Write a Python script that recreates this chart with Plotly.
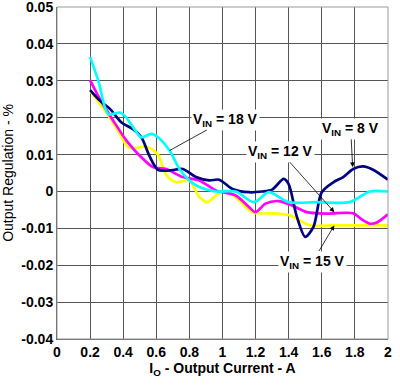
import plotly.graph_objects as go

# Data
x_8v = [0.2, 0.26, 0.32, 0.39, 0.46, 0.51, 0.56, 0.61, 0.68, 0.76, 0.84, 0.92, 0.98, 1.06, 1.16, 1.24, 1.30, 1.37, 1.40, 1.45, 1.50, 1.55, 1.60, 1.67, 1.73, 1.79, 1.85, 1.91, 2.0]
y_8v = [0.0275, 0.0246, 0.0224, 0.0187, 0.0169, 0.0147, 0.0095, 0.0059, 0.0057, 0.0061, 0.0039, 0.003, 0.0032, 0.0007, -0.0002, 0.0, 0.0005, 0.0034, 0.002, -0.0069, -0.0123, -0.0096, -0.0002, 0.0025, 0.0039, 0.0061, 0.0068, 0.0059, 0.0032]

x_12v = [0.2, 0.26, 0.34, 0.42, 0.50, 0.58, 0.66, 0.76, 0.86, 0.96, 1.08, 1.16, 1.20, 1.26, 1.34, 1.42, 1.51, 1.63, 1.79, 1.84, 1.89, 1.93, 2.0]
y_12v = [0.0302, 0.025, 0.0192, 0.0138, 0.0097, 0.0066, 0.0061, 0.0039, 0.003, 0.0003, -0.0011, -0.0042, -0.0056, -0.0033, -0.0026, -0.0038, -0.0056, -0.006, -0.0059, -0.0075, -0.0087, -0.0085, -0.0062]

x_15v = [0.2, 0.26, 0.32, 0.38, 0.43, 0.48, 0.54, 0.61, 0.66, 0.72, 0.80, 0.86, 0.91, 0.96, 1.02, 1.10, 1.18, 1.33, 1.41, 1.53, 1.67, 2.0]
y_15v = [0.0273, 0.0237, 0.020, 0.0156, 0.012, 0.0118, 0.0122, 0.0100, 0.0045, 0.0025, 0.003, -0.0015, -0.0029, -0.0011, 0.0003, -0.0024, -0.0056, -0.006, -0.0065, -0.0092, -0.0092, -0.0092]

x_18v = [0.2, 0.25, 0.31, 0.38, 0.41, 0.46, 0.51, 0.57, 0.61, 0.68, 0.74, 0.80, 0.86, 0.96, 1.08, 1.19, 1.28, 1.40, 1.57, 1.77, 1.89, 2.0]
y_18v = [0.0365, 0.030, 0.021, 0.0214, 0.0205, 0.0174, 0.0147, 0.0156, 0.0147, 0.0111, 0.0061, 0.003, 0.0012, 0.0, 0.0, -0.0029, -0.0002, -0.0029, -0.0029, -0.0029, 0.0, 0.0]

x_ticks = [0, 0.2, 0.4, 0.6, 0.8, 1, 1.2, 1.4, 1.6, 1.8, 2]
x_tick_labels = ["0", "0.2", "0.4", "0.6", "0.8", "1", "1.2", "1.4", "1.6", "1.8", "2"]
y_ticks = [-0.04, -0.03, -0.02, -0.01, 0, 0.01, 0.02, 0.03, 0.04, 0.05]
y_tick_labels = ["-0.04", "-0.03", "-0.02", "-0.01", "0", "0.01", "0.02", "0.03", "0.04", "0.05"]

series = [
    (x_15v, y_15v, "#ffff00"),
    (x_12v, y_12v, "#ff00ff"),
    (x_8v, y_8v, "#000080"),
    (x_18v, y_18v, "#00ffff"),
]

fig = go.Figure()
for xs, ys, c in series:
    fig.add_trace(go.Scatter(x=xs, y=ys, mode="lines",
                             line=dict(color=c, width=2.7, shape="spline", smoothing=0.8),
                             showlegend=False, hoverinfo="skip"))

font_main = "Liberation Sans, Arial, sans-serif"

labels = [
    # text, text x, text y, arrow end x, arrow end y, arrowhead style
    ("<b>V<sub>IN</sub> = 18 V</b>", 1.02, 0.0195, 0.68, 0.0111, 0),
    ("<b>V<sub>IN</sub> = 8 V</b>", 1.775, 0.0170, 1.787, 0.0066, 2),
    ("<b>V<sub>IN</sub> = 12 V</b>", 1.35, 0.0108, 1.676, -0.0056, 2),
    ("<b>V<sub>IN</sub> = 15 V</b>", 1.545, -0.0190, 1.676, -0.0092, 2),
]
for text, tx, ty, ax_, ay_, head in labels:
    fig.add_annotation(x=ax_, y=ay_, ax=tx, ay=ty, xref="x", yref="y", axref="x", ayref="y",
                       text=text, showarrow=True, arrowhead=head, arrowsize=1.2, arrowwidth=0.8,
                       arrowcolor="#000000", standoff=0, startstandoff=0,
                       bgcolor="white", borderpad=1,
                       font=dict(family=font_main, size=14, color="#000000"))

fig.update_xaxes(range=[0, 2.0005], tickvals=x_ticks, ticktext=x_tick_labels,
                 showgrid=True, gridcolor="#555555", gridwidth=1,
                 showline=True, linecolor="#555555", linewidth=1, mirror=False,
                 zeroline=False, ticks="", automargin=False, ticklabeloverflow="allow",
                 tickfont=dict(family=font_main, size=14, color="#000000", weight="bold"),
                 title=dict(text="<b>I<sub>O</sub> - Output Current - A</b>", standoff=2,
                            font=dict(family=font_main, size=14, color="#000000")))
fig.update_yaxes(range=[-0.04, 0.05002], tickvals=y_ticks, ticktext=y_tick_labels,
                 showgrid=True, gridcolor="#555555", gridwidth=1,
                 showline=True, linecolor="#555555", linewidth=1,
                 zeroline=False, ticks="", automargin=False, ticklabeloverflow="allow",
                 tickfont=dict(family=font_main, size=14, color="#000000", weight="bold"),
                 title=dict(text="Output Regulation - %", standoff=12,
                            font=dict(family=font_main, size=14, color="#000000")))

fig.add_shape(type="rect", xref="paper", yref="paper", x0=0, y0=0, x1=1, y1=1,
              line=dict(color="#999999", width=1))

fig.update_layout(width=400, height=386, margin=dict(l=57, r=12, t=7, b=47),
                  plot_bgcolor="white", paper_bgcolor="white")

fig.write_html("out.html", config={"displayModeBar": False, "staticPlot": True},
               post_script="document.body.style.margin='0';document.body.style.overflow='hidden';")
